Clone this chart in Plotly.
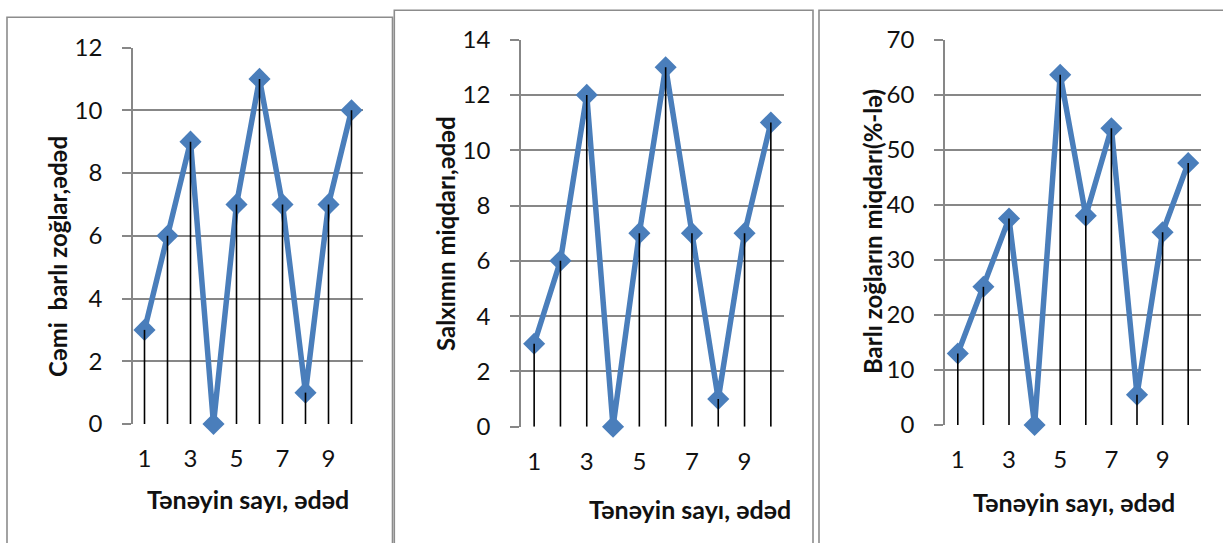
import plotly.graph_objects as go

W, H = 1223, 543

categories = [1, 2, 3, 4, 5, 6, 7, 8, 9, 10]
tick_labels = ["1", "3", "5", "7", "9"]
tick_positions = [1, 3, 5, 7, 9]

vals_total = [3, 6, 9, 0, 7, 11, 7, 1, 7, 10]
vals_cluster = [3, 6, 12, 0, 7, 13, 7, 1, 7, 11]
vals_percent = [13.0, 25.1, 37.5, 0, 63.6, 38.0, 53.9, 5.5, 35.0, 47.6]

xtitle = "Tənəyin sayı, ədəd"
ytitles = ["Cəmi  barlı zoğlar,ədəd", "Salxımın miqdarı,ədəd", "Barlı zoğların miqdarı(%-lə)"]
yranges = [(0, 12, 2), (0, 14, 2), (0, 70, 10)]

# pixel layout (left, right, top, bottom) of plot areas
areas = [(133, 363, 47.5, 424), (521, 784, 39.6, 426.7), (945, 1201, 39.6, 425)]
xtitle_pos = [(247.5, 499), (690, 508.5), (1073.5, 501.5)]
ytitle_pos = [(57, 257), (445, 234), (872, 232)]
borders = [(7, 392.5, 17.3), (394.3, 813, 10.3), (819, 1230, 10.3)]

FONT = "Lato, 'Open Sans', sans-serif"
BLUE = "#4A7EBB"
GRID = "#878787"

fig = go.Figure()
series = [vals_total, vals_cluster, vals_percent]

def px_x(p):
    return p / W

def px_y(p):
    return 1 - p / H

for i, vals in enumerate(series):
    n = "" if i == 0 else str(i + 1)
    xa, ya = "x" + n, "y" + n
    fig.add_trace(go.Scatter(
        x=categories, y=vals, xaxis=xa, yaxis=ya, mode="lines+markers",
        line=dict(color=BLUE, width=5.5),
        marker=dict(symbol="diamond", size=17, color=BLUE),
        cliponaxis=False, showlegend=False, hoverinfo="skip"))
    dx, dy = [], []
    for c, v in zip(categories, vals):
        dx += [c, c, None]
        dy += [0, v, None]
    fig.add_trace(go.Scatter(
        x=dx, y=dy, xaxis=xa, yaxis=ya, mode="lines",
        line=dict(color="black", width=1.6),
        cliponaxis=False, showlegend=False, hoverinfo="skip"))

    l, r, t, b = areas[i]
    lo, hi, dt = yranges[i]
    fig.layout["xaxis" + n] = dict(
        domain=[px_x(l), px_x(r)], anchor=ya, range=[0.5, 10.5],
        tickvals=tick_positions, ticktext=tick_labels, showgrid=False,
        zeroline=False, showline=False, ticks="", ticklabelstandoff=18,
        automargin=False,
        tickfont=dict(family=FONT, size=24, color="#111"))
    fig.layout["yaxis" + n] = dict(
        domain=[px_y(b), px_y(t)], anchor=xa, range=[lo, hi], dtick=dt,
        showgrid=True, gridcolor=GRID, gridwidth=1.6, zeroline=False,
        showline=True, linecolor=GRID, linewidth=1.6,
        ticks="outside", ticklen=9, tickcolor=GRID, tickwidth=1.6,
        ticklabelstandoff=15, automargin=False,
        tickfont=dict(family=FONT, size=24, color="#111"))

    fig.add_annotation(text=f"<b>{xtitle}</b>", x=px_x(xtitle_pos[i][0]),
                       y=px_y(xtitle_pos[i][1]), xref="paper", yref="paper",
                       xanchor="center", yanchor="middle",
                       showarrow=False, font=dict(family=FONT, size=25, color="#111"))
    fig.add_annotation(text=f"<b>{ytitles[i]}</b>", x=px_x(ytitle_pos[i][0]),
                       y=px_y(ytitle_pos[i][1]), xref="paper", yref="paper",
                       xanchor="center", yanchor="middle",
                       textangle=-90, showarrow=False,
                       font=dict(family=FONT, size=24, color="#111"))

    bl, br, bt = borders[i]
    fig.add_shape(type="rect", xref="paper", yref="paper",
                  x0=px_x(bl), x1=px_x(br), y0=-0.05, y1=px_y(bt),
                  line=dict(color="#8c8c8c", width=1.6), layer="below")

fig.update_layout(width=W, height=H, margin=dict(l=0, r=0, t=0, b=0, pad=0),
                  autosize=False, template="none",
                  paper_bgcolor="white", plot_bgcolor="white")
fig.write_html("out.html")
